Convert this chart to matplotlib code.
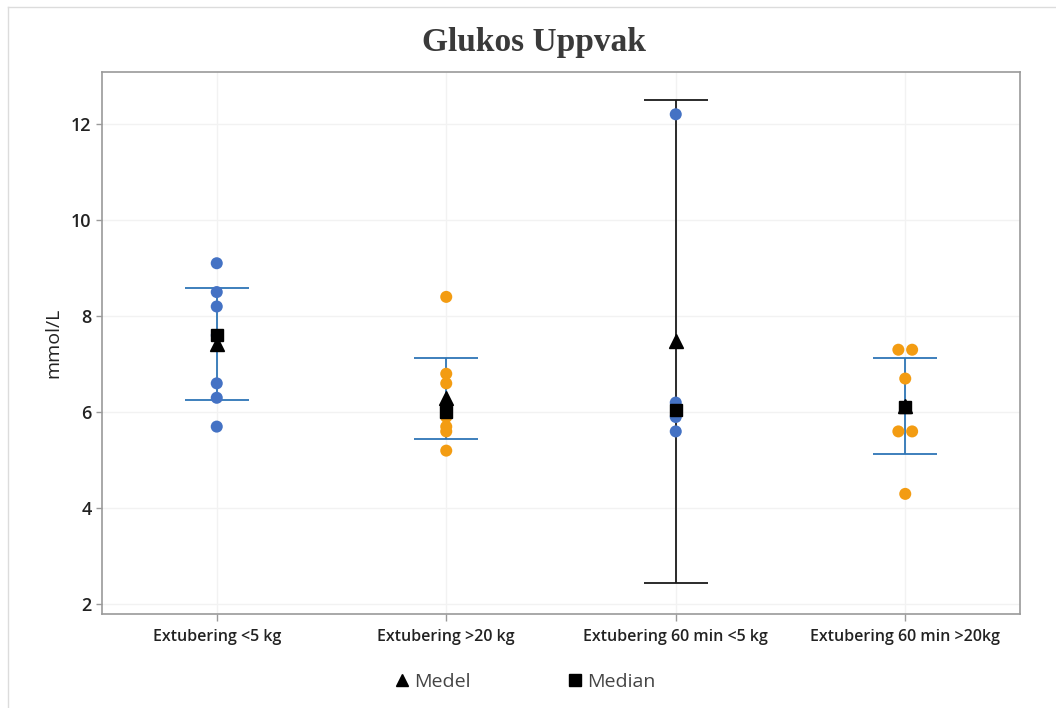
"""Individual value plot of glucose at wake-up, with mean, median and 95% CI."""

import matplotlib
matplotlib.use('Agg')
import matplotlib.pyplot as plt
from matplotlib.lines import Line2D
import numpy as np

plt.rcParams['font.family'] = ['Open Sans', 'DejaVu Sans']

# Measurements per group (mmol/L)
groups = ['Extubering <5 kg', 'Extubering >20 kg',
          'Extubering 60 min <5 kg', 'Extubering 60 min >20kg']
ext_lt5 = [9.1, 8.5, 8.2, 7.6, 6.6, 6.3, 5.7]
ext_gt20 = [8.4, 6.8, 6.6, 6.1, 5.9, 5.7, 5.6, 5.2]
ext60_lt5 = [12.2, 6.2, 5.9, 5.6]
ext60_gt20 = [7.3, 7.3, 6.7, 6.1, 5.6, 5.6, 4.3]
values = [ext_lt5, ext_gt20, ext60_lt5, ext60_gt20]

BLUE = '#4472C4'
ORANGE = '#F39C12'
point_colors = [BLUE, ORANGE, BLUE, ORANGE]
bar_colors = ['#2E75B6', '#2E75B6', '#1a1a1a', '#2E75B6']

# two-sided 95% t critical values by degrees of freedom
T95 = {2: 4.303, 3: 3.182, 4: 2.776, 5: 2.571, 6: 2.447, 7: 2.365, 8: 2.306, 9: 2.262}


def dodge(vals, step=0.06):
    """Spread identical values side by side."""
    offs = np.zeros(len(vals))
    for v in set(vals):
        idx = [i for i, x in enumerate(vals) if x == v]
        k = len(idx)
        for j, i in enumerate(idx):
            offs[i] = (j - (k - 1) / 2) * step
    return offs


fig = plt.figure(figsize=(10.56, 7.08), dpi=100)
ax = fig.add_axes([102 / 1056, 1 - 614 / 708, 918 / 1056, 542 / 708])

for i, vals in enumerate(values):
    v = np.array(vals)
    n = len(v)
    mean = v.mean()
    med = np.median(v)
    half = T95[n - 1] * v.std(ddof=1) / np.sqrt(n)

    ax.errorbar(i, mean, yerr=half, fmt='none', ecolor=bar_colors[i],
                elinewidth=1.3, capsize=23, capthick=1.3, zorder=2)
    ax.scatter(i + dodge(vals), v, s=75, color=point_colors[i],
               edgecolor='none', zorder=3)
    ax.plot(i, mean, marker='^', ms=10, color='black', ls='none', zorder=4)
    ax.plot(i, med, marker='s', ms=9, color='black', ls='none', zorder=5)

ax.set_xlim(-0.5, 3.5)
ax.set_ylim(1.8, 13.08)
ax.set_xticks(range(len(groups)))
ax.set_xticklabels(groups, fontsize=11.5, fontweight='semibold', color='#222222')
ax.set_yticks([2, 4, 6, 8, 10, 12])
for lab in ax.get_yticklabels():
    lab.set_fontweight('semibold')
ax.tick_params(axis='y', labelsize=13, colors='#222222', length=4, width=1,
               color='#9a9a9a')
ax.tick_params(axis='x', length=5, width=1, color='#9a9a9a', pad=6)
ax.set_ylabel('mmol/L', fontsize=14, color='#222222', labelpad=6)
ax.grid(True, color='#f2f2f2', linewidth=1, zorder=0)
ax.set_axisbelow(True)
for sp in ax.spines.values():
    sp.set_color('#9a9a9a')
    sp.set_linewidth(1.2)

fig.text(0.506, 1 - 43 / 708, 'Glukos Uppvak', ha='center', va='center',
         fontsize=24, fontweight='bold', family='Liberation Serif',
         color='#3a3a3a')

# thin frame lines along the top and left edges of the figure
fig.add_artist(Line2D([8 / 1056, 1], [1 - 7 / 708, 1 - 7 / 708],
                      color='#dcdcdc', lw=1))
fig.add_artist(Line2D([8 / 1056, 8 / 1056], [0, 1 - 7 / 708],
                      color='#dcdcdc', lw=1))

handles = [Line2D([], [], marker='^', color='black', ls='none', ms=9),
           Line2D([], [], marker='s', color='black', ls='none', ms=8)]
fig.legend(handles, ['Medel', 'Median'], loc='center', ncol=2,
           bbox_to_anchor=(0.497, 1 - 682 / 708), frameon=False,
           handletextpad=0.2, columnspacing=5.0, handlelength=0.8,
           fontsize=14, labelcolor='#444444')

fig.savefig('out.png', dpi=100, facecolor='white')
